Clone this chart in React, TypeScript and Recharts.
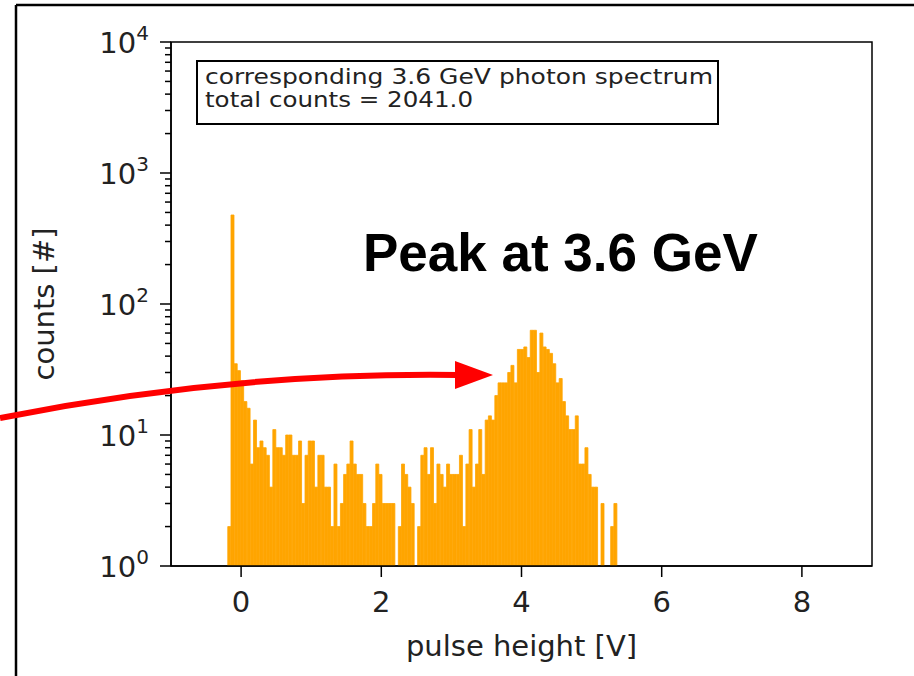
import React from 'react'
import { BarChart, Bar, XAxis, YAxis, ReferenceArea } from 'recharts'

// histogram binning (pulse height in V)
const BIN_START = -0.19
const BIN_WIDTH = 0.0459

// counts per bin (0 = empty bin)
const COUNTS_LOW = [
  2, 478, 35, 31, 26, 18, 16, 6, 13, 8, 9, 8, 7, 4, 11, 8, 8, 7, 10, 10, 7, 7,
  9, 3, 7, 9, 9, 4, 7, 7, 4, 4, 2, 6, 2, 3, 5,
]
const COUNTS_MID = [
  6, 9, 6, 5, 5, 3, 2, 2, 3, 6, 5, 3, 3, 3, 3, 0, 2, 6, 5, 4, 3, 0, 2, 7, 8,
  5, 8, 3, 6, 5, 4, 6, 5, 5,
]
const COUNTS_PEAK = [
  5, 7, 2, 6, 11, 4, 6, 11, 5, 13, 14, 13, 20, 25, 25, 25, 30, 34, 25, 45, 45,
  47, 39, 63, 63, 30, 60, 47, 45, 42, 35, 25, 27, 18, 14, 11, 11, 14, 6, 6, 8,
  5, 4, 4, 0, 3, 0, 0, 2, 3,
]

const X_TICKS = [0, 2, 4, 6, 8]
const Y_DECADES = [1, 10, 100, 1000, 10000]
const Y_MINOR_STEPS = [2, 3, 4, 5, 6, 7, 8, 9]

const BOX_LINES = ['corresponding 3.6 GeV photon spectrum', 'total counts = 2041.0']
const BOX_LINE_WIDTHS = [508, 268]
const ANNOTATION = 'Peak at 3.6 GeV'

const counts = [...COUNTS_LOW, ...COUNTS_MID, ...COUNTS_PEAK]
const data = counts.map((c, i) => ({
  x: BIN_START + (i + 0.5) * BIN_WIDTH,
  count: c > 0 ? c : null,
}))

const yTicks = [
  ...Y_DECADES,
  ...Y_DECADES.slice(0, -1).flatMap((d) => Y_MINOR_STEPS.map((s) => s * d)),
].sort((a, b) => a - b)

const MPL_FONT = '"DejaVu Sans", sans-serif'
const BAR_COLOR = '#ffa500'

function LogTick({ x, y, payload }: any) {
  const v = payload.value
  const exp = Math.round(Math.log10(v))
  const major = Math.abs(Math.log10(v) - exp) < 1e-6
  return (
    <g>
      <line x1={x - (major ? 11 : 6)} x2={x} y1={y} y2={y} stroke="#000" strokeWidth={1.5} />
      {major && (
        <text x={x - 22} y={y + 11} textAnchor="end" fontSize={29} fill="#222" fontFamily={MPL_FONT}>
          10
          <tspan dy={-13} fontSize={20}>
            {exp}
          </tspan>
        </text>
      )}
    </g>
  )
}

function YLabel({ viewBox }: any) {
  const cx = viewBox.x + 33
  const cy = viewBox.y + viewBox.height / 2
  return (
    <text
      x={cx}
      y={cy}
      transform={`rotate(-90 ${cx} ${cy})`}
      textAnchor="middle"
      dominantBaseline="central"
      fontSize={29}
      fill="#222"
      fontFamily={MPL_FONT}
    >
      counts [#]
    </text>
  )
}

function XLabel({ viewBox }: any) {
  return (
    <text
      x={viewBox.x + viewBox.width / 2}
      y={viewBox.y + 90}
      textAnchor="middle"
      fontSize={29}
      fill="#222"
      fontFamily={MPL_FONT}
    >
      pulse height [V]
    </text>
  )
}

export default function App() {
  return (
    <div style={{ position: 'absolute', left: 0, top: 0, width: 914, height: 676, background: '#fff' }}>
      <BarChart
        width={914}
        height={676}
        data={data}
        margin={{ top: 42, right: 42, left: 11, bottom: 10 }}
        barCategoryGap={0}
        barGap={0}
      >
        <XAxis
          type="number"
          dataKey="x"
          domain={[-1, 9]}
          allowDataOverflow
          ticks={X_TICKS}
          interval={0}
          height={100}
          tickSize={11}
          tickMargin={14}
          axisLine={{ stroke: '#000', strokeWidth: 1.5 }}
          tickLine={{ stroke: '#000', strokeWidth: 1.5 }}
          tick={{ fill: '#222', fontSize: 29, fontFamily: MPL_FONT }}
          label={(props: any) => <XLabel {...props} />}
        />
        <YAxis
          scale="log"
          domain={[1, 10000]}
          allowDataOverflow
          ticks={yTicks}
          interval={0}
          width={160}
          tickSize={0}
          tickMargin={0}
          axisLine={{ stroke: '#000', strokeWidth: 1.5 }}
          tick={<LogTick />}
          label={(props: any) => <YLabel {...props} />}
        />
        <Bar
          dataKey="count"
          fill={BAR_COLOR}
          stroke={BAR_COLOR}
          strokeWidth={0.8}
          isAnimationActive={false}
        />
        <ReferenceArea
          x1={-1}
          x2={9}
          y1={1}
          y2={10000}
          fill="none"
          fillOpacity={0}
          stroke="#000"
          strokeWidth={1.5}
          ifOverflow="visible"
        />
      </BarChart>

      <svg
        width={914}
        height={676}
        style={{ position: 'absolute', left: 0, top: 0, pointerEvents: 'none' }}
      >
        {/* slide frame */}
        <line x1={16} y1={5} x2={914} y2={5} stroke="#000" strokeWidth={2.5} />
        <line x1={16} y1={5} x2={16} y2={676} stroke="#000" strokeWidth={2.5} />

        {/* text box */}
        <rect x={197} y={61} width={521} height={63} fill="#fff" stroke="#000" strokeWidth={2} />
        {BOX_LINES.map((t, i) => (
          <text
            key={t}
            x={205}
            y={84 + i * 23}
            fontSize={22}
            fill="#222"
            fontFamily={MPL_FONT}
            textLength={BOX_LINE_WIDTHS[i]}
            lengthAdjust="spacingAndGlyphs"
          >
            {t}
          </text>
        ))}

        {/* annotation */}
        <text
          x={363}
          y={271}
          fontSize={53}
          fontWeight="bold"
          fill="#000"
          fontFamily='"Liberation Sans", Arial, sans-serif'
        >
          {ANNOTATION}
        </text>
        <path d="M 0 418 Q 230 372 458 375" fill="none" stroke="#ff0000" strokeWidth={6} />
        <polygon points="455,361 493,375 455,389" fill="#ff0000" />
      </svg>
    </div>
  )
}
